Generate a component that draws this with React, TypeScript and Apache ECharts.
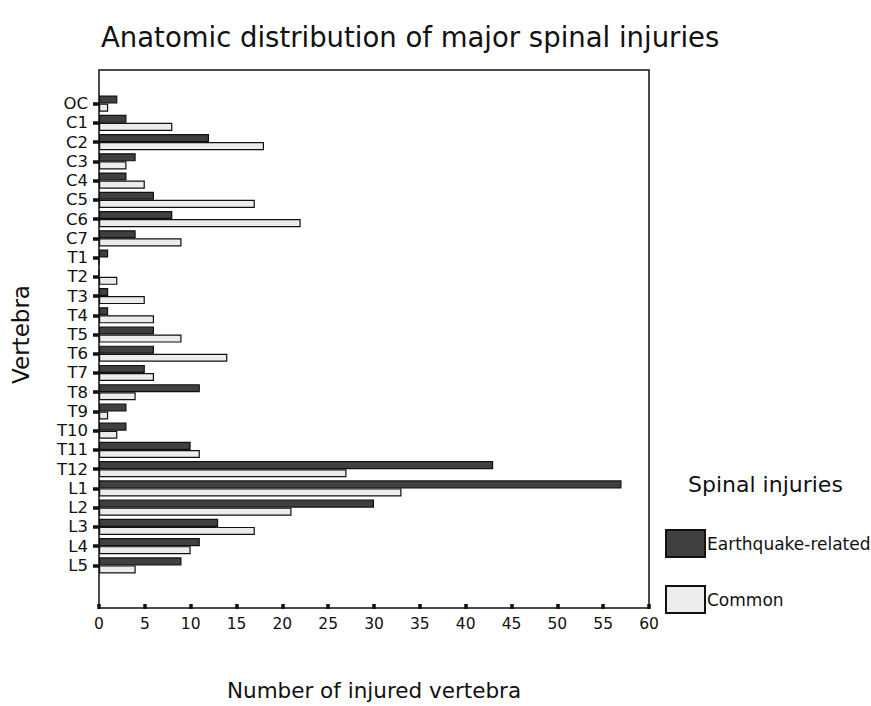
import React, { useEffect, useRef } from "react";
import * as echarts from "echarts";

const categories = ["OC","C1","C2","C3","C4","C5","C6","C7","T1","T2","T3","T4","T5","T6","T7","T8","T9","T10","T11","T12","L1","L2","L3","L4","L5"];
const earthquakeRelated = [2,3,12,4,3,6,8,4,1,0,1,1,6,6,5,11,3,3,10,43,57,30,13,11,9];
const common = [1,8,18,3,5,17,22,9,0,2,5,6,9,14,6,4,1,2,11,27,33,21,17,10,4];
const xTicks = [0,5,10,15,20,25,30,35,40,45,50,55,60];

const FONT = "DejaVu Sans";

export default function App() {
  const ref = useRef<HTMLDivElement>(null);
  useEffect(() => {
    if (!ref.current) return;
    const chart = echarts.init(ref.current, null, { renderer: "svg" });
    const L = 99, R = 649, T = 70, B = 608;
    chart.setOption({
      animation: false,
      backgroundColor: "#ffffff",
      title: {
        text: "Anatomic distribution of major spinal injuries",
        left: 96,
        top: 18,
        textStyle: { fontFamily: FONT, fontSize: 27.5, fontWeight: "normal", color: "#111" },
      },
      legend: {
        orient: "vertical",
        left: 665,
        top: 529,
        padding: 0,
        itemWidth: 39,
        itemHeight: 27,
        itemGap: 27,
        icon: "rect",
        textStyle: { fontFamily: FONT, fontSize: 17, color: "#111", padding: [10, 0, 0, -3] },
        data: ["Earthquake-related", "Common"],
      },
      grid: { left: L, right: 871 - R, top: 94, bottom: 706 - 583 },
      xAxis: {
        type: "value",
        min: 0,
        max: 60,
        interval: 5,
        offset: 29,
        name: "Number of injured vertebra",
        nameLocation: "middle",
        nameGap: 75,
        nameTextStyle: { fontFamily: FONT, fontSize: 21.5, color: "#111" },
        axisLine: { show: false },
        axisTick: { show: true, length: 5, lineStyle: { color: "#111", width: 3.5 } },
        axisLabel: {
          fontFamily: FONT, fontSize: 15.5, color: "#111", margin: 12,
          formatter: (v: number) => (xTicks.includes(v) ? String(v) : ""),
        },
        splitLine: { show: false },
      },
      yAxis: {
        type: "category",
        data: categories,
        inverse: true,
        name: "Vertebra",
        nameLocation: "middle",
        nameGap: 67,
        nameRotate: 90,
        nameTextStyle: { fontFamily: FONT, fontSize: 23, color: "#111" },
        axisLine: { show: false },
        axisTick: { show: true, alignWithLabel: true, length: 6, lineStyle: { color: "#111", width: 3.5 } },
        axisLabel: { fontFamily: FONT, fontSize: 16.5, color: "#111", margin: 11, interval: 0 },
      },
      series: [
        {
          name: "Earthquake-related",
          type: "bar",
          data: earthquakeRelated,
          barGap: "0%",
          barCategoryGap: "16%",
          itemStyle: { color: "#404040", borderColor: "#111", borderWidth: 1.2 },
        },
        {
          name: "Common",
          type: "bar",
          data: common,
          barGap: "0%",
          barCategoryGap: "16%",
          itemStyle: { color: "#ececec", borderColor: "#111", borderWidth: 1.2 },
        },
      ],
      graphic: [
        {
          type: "rect",
          shape: { x: L, y: T, width: R - L, height: B - T },
          style: { fill: "none", stroke: "#111", lineWidth: 1.5 },
          z: 10,
        },
        {
          type: "text",
          left: 688,
          top: 473,
          style: { text: "Spinal injuries", fontFamily: FONT, fontSize: 22, fill: "#111" },
        },
      ],
    });
    return () => chart.dispose();
  }, []);
  return <div ref={ref} style={{ position: "absolute", left: 0, top: 0, width: 871, height: 706 }} />;
}
